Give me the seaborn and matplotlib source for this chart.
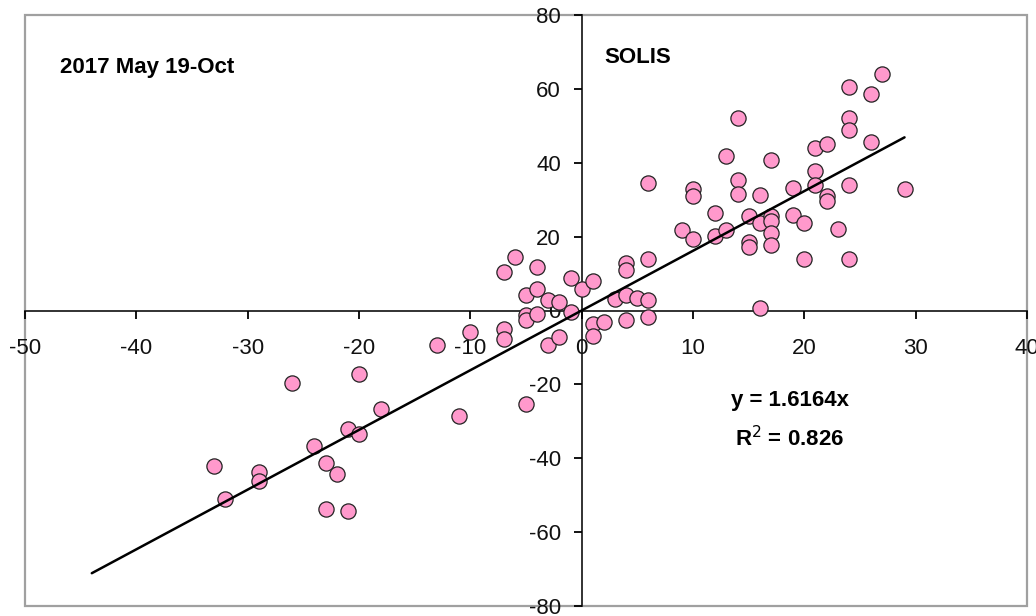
import matplotlib
matplotlib.use("Agg")
import matplotlib.pyplot as plt
from matplotlib.patches import Rectangle
import numpy as np
import pandas as pd
import seaborn as sns

# Daily anomaly pairs (x, y)
x_vals = [-33, -32, -29, -29, -26, -24, -23, -23, -22, -21, -21, -20, -20, -18,
          -13, -11, -10, -7, -7, -7, -6, -5, -5, -5, -5, -4, -4, -4, -3, -3,
          -2, -2, -1, -1, 0, 1, 1, 1, 2, 3, 4, 4, 4, 4, 5, 6, 6, 6, 6,
          9, 10, 10, 10, 12, 12, 13, 13, 14, 14, 14, 15, 15, 15, 16, 16, 16,
          17, 17, 17, 17, 17, 19, 19, 20, 20, 21, 21, 21, 22, 22, 22, 23,
          24, 24, 24, 24, 24, 26, 26, 27, 29]
y_vals = [-42.1, -51.1, -43.7, -46.1, -19.6, -36.6, -41.4, -53.8, -44.3, -32.1, -54.2, -33.3, -17.3, -26.7,
          -9.4, -28.5, -5.8, -4.9, -7.7, 10.5, 14.4, 4.3, -1.2, -2.7, -25.2, 11.8, 5.8, -1.0, 2.9, -9.3,
          2.2, -7.2, 8.7, -0.4, 5.8, 7.9, -3.6, -7.0, -3.2, 3.1, 4.1, -2.6, 12.8, 10.9, 3.5, 14.0, 2.8, -1.8, 34.5,
          21.7, 19.4, 33.0, 31.0, 26.3, 20.3, 21.8, 41.8, 52.1, 35.4, 31.6, 25.6, 18.5, 17.3, 31.4, 23.8, 0.6,
          40.8, 25.6, 24.1, 20.9, 17.8, 33.2, 25.9, 23.8, 13.9, 44.0, 37.9, 34.1, 45.2, 31.1, 29.6, 22.0,
          60.6, 52.1, 49.0, 34.1, 13.9, 58.5, 45.5, 64.1, 32.8]

# Trendline through the origin
slope = 1.6164
r_squared = 0.826
trend_x = [-44, 29]

x_ticks = [-50, -40, -30, -20, -10, 0, 10, 20, 30, 40]
y_ticks = [-80, -60, -40, -20, 0, 20, 40, 60, 80]

sns.set_theme(style="white")
plt.rcParams.update({
    "font.family": ["Liberation Sans", "DejaVu Sans"],
    "axes.unicode_minus": False,
    "xtick.bottom": True,
    "ytick.left": True,
    "xtick.major.size": 6,
    "ytick.major.size": 6,
    "xtick.major.width": 1.3,
    "ytick.major.width": 1.3,
    "xtick.color": "black",
    "ytick.color": "black",
    "xtick.direction": "out",
    "ytick.direction": "out",
    "axes.axisbelow": False,
})

fig = plt.figure(figsize=(10.36, 6.16), dpi=100)
ax = fig.add_axes([25 / 1036, 10 / 616, 1002 / 1036, 591 / 616])

df = pd.DataFrame({"x": x_vals, "y": y_vals})
sns.scatterplot(data=df, x="x", y="y", ax=ax, s=120, color="#FF99CC",
                edgecolor="#222222", linewidth=0.9, zorder=3, legend=False)

trend = pd.DataFrame({"x": trend_x, "y": [slope * v for v in trend_x]})
sns.lineplot(data=trend, x="x", y="y", ax=ax, color="black", linewidth=1.8, zorder=4)

ax.set_xlim(-50, 40)
ax.set_ylim(-80, 80)
ax.set_xticks(x_ticks)
ax.set_yticks(y_ticks)
ax.set_xlabel("")
ax.set_ylabel("")

# Axes crossing at the origin
for side in ("left", "bottom"):
    ax.spines[side].set_position(("data", 0))
    ax.spines[side].set_color("#222222")
    ax.spines[side].set_linewidth(1.3)
    ax.spines[side].set_zorder(2)
for side in ("top", "right"):
    ax.spines[side].set_visible(False)

ax.xaxis.set_tick_params(which="major", bottom=True, top=False, length=6,
                         width=1.3, color="black", labelsize=16,
                         labelcolor="#111111", pad=14)
ax.yaxis.set_tick_params(which="major", left=True, right=False, length=6,
                         width=1.3, color="black", labelsize=16,
                         labelcolor="#111111", pad=9)
ax.patch.set_visible(False)

# Grey plot-area frame
frame = Rectangle((0, 0), 1, 1, transform=ax.transAxes, fill=False,
                  edgecolor="#A0A0A0", linewidth=1.6, zorder=1, clip_on=False)
ax.add_patch(frame)

ax.text(0.035, 0.912, "2017 May 19-Oct", transform=ax.transAxes, fontsize=16,
        fontweight="bold", ha="left", va="center", color="black")
ax.text(0.578, 0.928, "SOLIS", transform=ax.transAxes, fontsize=16,
        fontweight="bold", ha="left", va="center", color="black")
ax.text(0.7635, 0.347, f"y = {slope:.4f}x", transform=ax.transAxes, fontsize=16,
        fontweight="bold", ha="center", va="center", color="black")
ax.text(0.7635, 0.283, f"R$^{{2}}$ = {r_squared:.3f}", transform=ax.transAxes,
        fontsize=16, fontweight="bold", ha="center", va="center", color="black")

fig.savefig("out.png", dpi=100, facecolor="white")
